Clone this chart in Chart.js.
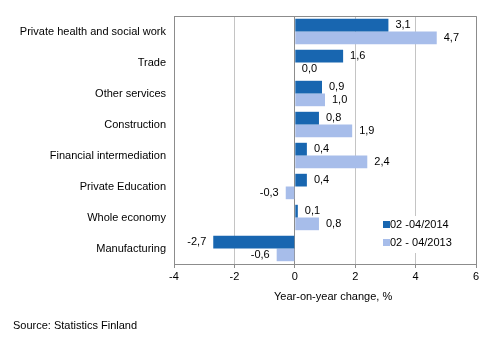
<!DOCTYPE html>
<html>
<head>
<meta charset="utf-8">
<script src="https://cdn.jsdelivr.net/npm/chart.js@4"></script>
<style>
  html, body { margin: 0; padding: 0; background: #fff; }
  #wrap { width: 496px; height: 341px; position: relative; }
</style>
</head>
<body>
<div id="wrap"><canvas id="chart"></canvas></div>
<script>
// ===== DATA =====
const categories = [
    'Private health and social work', 'Trade', 'Other services', 'Construction',
    'Financial intermediation', 'Private Education', 'Whole economy', 'Manufacturing'
];
const seriesNames = ['02 -04/2014', '02 - 04/2013'];
const values2014 = [3.1, 1.6, 0.9, 0.8, 0.4, 0.4, 0.1, -2.7];
const values2013 = [4.7, 0.0, 1.0, 1.9, 2.4, -0.3, 0.8, -0.6];
const xTicks = [-4, -2, 0, 2, 4, 6];

const FONT = '"Liberation Sans", Arial, sans-serif';
const DARK = '#1866b0';
const LIGHT = '#a7bdea';

// value labels, box, legend and footer text
const extras = {
    id: 'extras',
    afterDatasetsDraw(chart) {
        const ctx = chart.ctx;
        const area = chart.chartArea;
        ctx.save();
        ctx.font = '11px ' + FONT;
        ctx.fillStyle = '#000';
        ctx.textBaseline = 'middle';
        chart.data.datasets.forEach((ds, di) => {
            chart.getDatasetMeta(di).data.forEach((bar, i) => {
                const v = ds.data[i];
                const txt = v.toFixed(1).replace('.', ',');
                if (v < 0) {
                    ctx.textAlign = 'right';
                    ctx.fillText(txt, bar.x - 7, bar.y);
                } else {
                    ctx.textAlign = 'left';
                    ctx.fillText(txt, bar.x + 7, bar.y);
                }
            });
        });

        // plot box (top and right edges)
        ctx.strokeStyle = '#8c8c8c';
        ctx.lineWidth = 1;
        ctx.beginPath();
        ctx.moveTo(area.left, area.top + 0.5);
        ctx.lineTo(area.right + 0.5, area.top + 0.5);
        ctx.lineTo(area.right + 0.5, area.bottom);
        ctx.stroke();

        // legend inside the plot
        ctx.fillStyle = '#fff';
        ctx.fillRect(378, 216, 76, 37);
        const colors = [DARK, LIGHT];
        ctx.textAlign = 'left';
        seriesNames.forEach((name, k) => {
            const y = 225 + k * 18;
            ctx.fillStyle = colors[k];
            ctx.fillRect(383, y - 4, 7, 7);
            ctx.fillStyle = '#000';
            ctx.fillText(name, 390, y);
        });

        // axis title and source
        ctx.fillText('Year-on-year change, %', 274, 297);
        ctx.fillText('Source: Statistics Finland', 13, 326);
        ctx.restore();
    }
};

new Chart(document.getElementById('chart'), {
    type: 'bar',
    data: {
        labels: categories,
        datasets: [
            { label: seriesNames[0], data: values2014, backgroundColor: DARK },
            { label: seriesNames[1], data: values2013, backgroundColor: LIGHT }
        ]
    },
    options: {
        indexAxis: 'y',
        responsive: true,
        maintainAspectRatio: false,
        animation: false,
        layout: { padding: { top: 16, right: 20, left: 0, bottom: 0 } },
        datasets: { bar: { categoryPercentage: 0.82, barPercentage: 1.0 } },
        scales: {
            x: {
                min: -4, max: 6,
                afterBuildTicks: (scale) => { scale.ticks = xTicks.map(v => ({ value: v })); },
                afterFit: (scale) => { scale.height = 77; },
                grid: {
                    color: (c) => (c.tick && c.tick.value === 0) ? '#8c8c8c' : '#c4c4c4',
                    tickColor: '#8c8c8c',
                    tickLength: 4
                },
                border: { color: '#8c8c8c' },
                ticks: {
                    color: '#000',
                    font: { family: FONT, size: 11 },
                    padding: 2,
                    callback: (v) => v
                }
            },
            y: {
                afterFit: (scale) => { scale.width = 174; },
                grid: { display: false, drawTicks: false },
                border: { color: '#8c8c8c' },
                ticks: {
                    color: '#000',
                    font: { family: FONT, size: 11 },
                    padding: 8
                }
            }
        },
        plugins: {
            legend: { display: false },
            tooltip: { enabled: false }
        }
    },
    plugins: [extras]
});
</script>
</body>
</html>
